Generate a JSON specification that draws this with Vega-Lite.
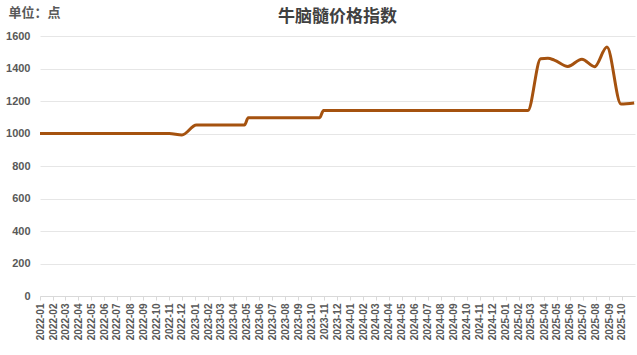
{
  "$schema": "https://vega.github.io/schema/vega-lite/v6.json",
  "width": 595,
  "height": 260,
  "autosize": {"type": "none"},
  "padding": {"left": 40, "top": 36, "right": 2, "bottom": 59},
  "background": "white",
  "title": {
    "text": "牛脑髓价格指数",
    "font": "Noto Sans CJK SC",
    "fontSize": 17,
    "fontWeight": "bold",
    "color": "#404040",
    "anchor": "middle",
    "offset": -20
  },
  "config": {
    "view": {"stroke": null}
  },
  "data": {
    "values": [
      {"date": "2022-01-01", "value": 1000},
      {"date": "2022-06-01", "value": 1000},
      {"date": "2022-11-01", "value": 1000},
      {"date": "2022-12-01", "value": 991},
      {"date": "2023-01-04", "value": 1052},
      {"date": "2023-04-27", "value": 1052},
      {"date": "2023-05-06", "value": 1097},
      {"date": "2023-10-21", "value": 1097},
      {"date": "2023-10-30", "value": 1142},
      {"date": "2025-02-22", "value": 1142},
      {"date": "2025-03-24", "value": 1460},
      {"date": "2025-04-10", "value": 1463},
      {"date": "2025-04-25", "value": 1452},
      {"date": "2025-05-27", "value": 1413},
      {"date": "2025-06-29", "value": 1457},
      {"date": "2025-07-29", "value": 1411},
      {"date": "2025-08-27", "value": 1532},
      {"date": "2025-09-29", "value": 1181},
      {"date": "2025-10-30", "value": 1188}
    ]
  },
  "mark": {"type": "line", "interpolate": "monotone", "color": "#A5520F", "strokeWidth": 3, "clip": true},
  "encoding": {
    "x": {
      "field": "date",
      "type": "temporal",
      "scale": {"type": "utc", "domain": ["2022-01-01", "2025-10-31T23:00:00Z"]},
      "axis": {
        "title": null,
        "format": "%Y-%m",
        "tickCount": {"interval": "month", "step": 1},
        "labelAngle": 270,
        "labelOverlap": false,
        "labelBound": false,
        "labelFlush": false,
        "labelFont": "Liberation Sans",
        "labelFontSize": 10,
        "labelFontWeight": "bold",
        "labelColor": "#595959",
        "labelPadding": 3,
        "grid": false,
        "domainColor": "#d9d9d9",
        "tickColor": "#d9d9d9",
        "tickSize": 4
      }
    },
    "y": {
      "field": "value",
      "type": "quantitative",
      "scale": {"domain": [0, 1600], "nice": false},
      "axis": {
        "title": "单位：点",
        "titleAngle": 0,
        "titleAlign": "left",
        "titleBaseline": "middle",
        "titleX": -32,
        "titleY": -24,
        "titleFont": "Noto Sans CJK SC",
        "titleFontSize": 13,
        "titleFontWeight": "bold",
        "titleColor": "#595959",
        "values": [0, 200, 400, 600, 800, 1000, 1200, 1400, 1600],
        "format": "d",
        "labelFont": "Liberation Sans",
        "labelFontSize": 11,
        "labelFontWeight": "bold",
        "labelColor": "#595959",
        "labelPadding": 10,
        "ticks": false,
        "domain": false,
        "gridColor": "#e6e6e6",
        "gridWidth": 1
      }
    }
  }
}
